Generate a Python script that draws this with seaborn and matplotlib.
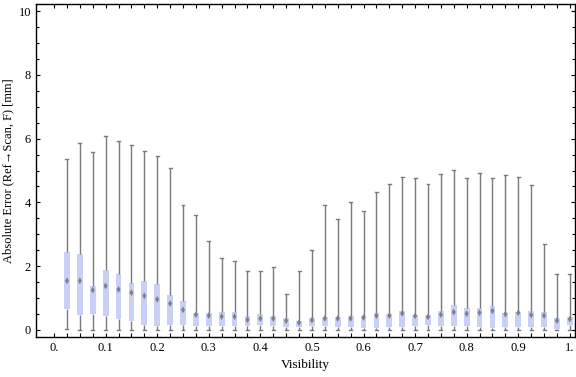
import matplotlib
matplotlib.use("Agg")
import matplotlib.pyplot as plt
import numpy as np
import pandas as pd
import seaborn as sns

# visibility bins (box positions)
visibility = [round(0.025 * k, 3) for k in range(1, 41)]

# five-number summaries
whisker_lo = [0.02, 0.0, 0.0, 0.0, 0.0, 0.0, 0.0, 0.0, 0.0, 0.0,
              0.0, 0.0, 0.0, 0.0, 0.0, 0.0, 0.0, 0.0, 0.0, 0.0,
              0.0, 0.0, 0.0, 0.0, 0.0, 0.0, 0.0, 0.0, 0.0, 0.0,
              0.0, 0.0, 0.0, 0.0, 0.0, 0.0, 0.0, 0.0, 0.0, 0.0]
q1 = [0.67, 0.46, 0.51, 0.45, 0.36, 0.29, 0.17, 0.14, 0.17, 0.17,
      0.14, 0.14, 0.14, 0.14, 0.14, 0.17, 0.14, 0.10, 0.10, 0.14,
      0.14, 0.10, 0.10, 0.07, 0.07, 0.10, 0.10, 0.14, 0.17, 0.14,
      0.14, 0.14, 0.10, 0.07, 0.10, 0.10, 0.10, 0.10, 0.04, 0.17]
median = [1.54, 1.54, 1.25, 1.38, 1.27, 1.17, 1.07, 0.96, 0.83, 0.63,
          0.48, 0.45, 0.42, 0.42, 0.32, 0.36, 0.36, 0.29, 0.23, 0.31,
          0.36, 0.36, 0.36, 0.39, 0.45, 0.45, 0.52, 0.44, 0.41, 0.48,
          0.56, 0.51, 0.54, 0.60, 0.50, 0.54, 0.47, 0.45, 0.29, 0.34]
q3 = [2.44, 2.38, 1.39, 1.88, 1.76, 1.47, 1.54, 1.44, 1.11, 0.91,
      0.53, 0.53, 0.56, 0.56, 0.44, 0.50, 0.44, 0.38, 0.28, 0.38,
      0.41, 0.41, 0.44, 0.44, 0.53, 0.50, 0.60, 0.47, 0.47, 0.60,
      0.78, 0.69, 0.69, 0.75, 0.53, 0.56, 0.60, 0.56, 0.38, 0.41]
whisker_hi = [5.35, 5.85, 5.57, 6.08, 5.91, 5.79, 5.60, 5.45, 5.07, 3.91,
              3.59, 2.78, 2.25, 2.15, 1.84, 1.84, 1.97, 1.12, 1.84, 2.50,
              3.91, 3.47, 4.01, 3.72, 4.33, 4.58, 4.79, 4.75, 4.58, 4.89,
              5.01, 4.75, 4.91, 4.75, 4.85, 4.79, 4.54, 2.69, 1.75, 1.75]

xtick_labels = ["0.", "0.1", "0.2", "0.3", "0.4", "0.5", "0.6", "0.7", "0.8", "0.9", "1."]
ytick_labels = ["0", "2", "4", "6", "8", "10"]

# five points per bin -> percentiles give back exactly the five numbers
rows = []
for i, v in enumerate(visibility):
    for val in (whisker_lo[i], q1[i], median[i], q3[i], whisker_hi[i]):
        rows.append({"Visibility": v, "err": val})
df = pd.DataFrame(rows)
med_df = pd.DataFrame({"Visibility": visibility, "err": median})

plt.rcParams["font.family"] = ["Liberation Serif", "DejaVu Serif"]

fig = plt.figure(figsize=(5.76, 3.77), dpi=100)
ax = fig.add_axes([36 / 576, 40 / 377, 539 / 576, 333 / 377])

sns.boxplot(data=df, x="Visibility", y="err", native_scale=True, ax=ax,
            whis=(0, 100), width=0.45, color="#c9d0f5", saturation=1,
            linecolor="#7a7a7a", linewidth=1.0, showfliers=False,
            boxprops={"linewidth": 0, "edgecolor": "none"},
            medianprops={"visible": False},
            whiskerprops={"color": "#7a7a7a", "linewidth": 1.0},
            capprops={"color": "#7a7a7a", "linewidth": 1.0})

# median markers
sns.scatterplot(data=med_df, x="Visibility", y="err", ax=ax, marker="d",
                s=12, color="#80808a", edgecolor="none", zorder=5)

ax.set_xlim(-0.035, 1.01)
ax.set_ylim(-0.22, 10.22)

ax.set_xticks(np.linspace(0, 1, 11))
ax.set_xticklabels(xtick_labels)
ax.set_xticks(np.arange(0, 1.001, 0.025), minor=True)
ax.set_yticks(np.arange(0, 11, 2))
ax.set_yticklabels(ytick_labels)
ax.set_yticks(np.arange(0, 10.01, 0.5), minor=True)

ax.tick_params(which="both", direction="in", top=True, right=True,
               labelsize=9, width=0.8, colors="black")
ax.tick_params(which="major", length=3)
ax.tick_params(which="minor", axis="x", length=3)
ax.tick_params(which="minor", axis="y", length=2)
for s in ax.spines.values():
    s.set_linewidth(1.0)

ax.set_xlabel("Visibility", fontsize=9.5, labelpad=4)
ax.set_ylabel("Absolute Error (Ref\u2192Scan, F) [mm]", fontsize=9, labelpad=3)

fig.savefig("out.png", dpi=100)
